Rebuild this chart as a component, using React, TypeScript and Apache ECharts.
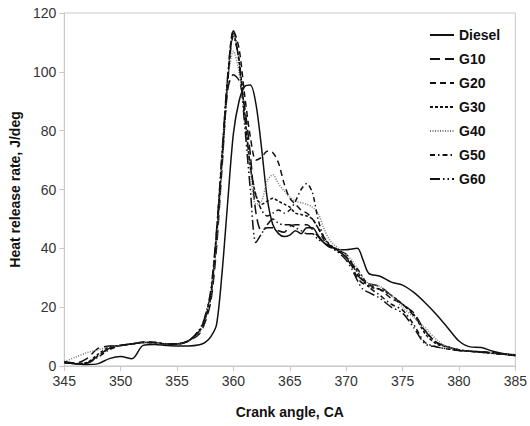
import React, { useEffect, useRef } from "react";
import * as echarts from "echarts";

const angles = [
  345, 346, 347, 348, 349, 350, 351, 352, 353, 354, 355, 356, 357,
  357.5, 358, 358.5, 359, 359.5, 360, 360.5, 361, 361.5, 362, 362.5, 363, 363.5, 364, 364.5, 365,
  365.5, 366, 366.5, 367, 367.5, 368, 368.5, 369, 369.5, 370, 370.5, 371, 371.5, 372,
  373, 374, 375, 376, 377, 378, 379, 380, 381, 382, 383, 384, 385,
];

const diesel = [
  1.2, 0.8, 0.5, 0.8, 2.5, 3.2, 2.5, 7, 7.3, 7, 6.8, 6.8, 7.2,
  8, 10, 14, 32, 56, 79, 90, 95, 95.5, 89, 74, 57, 48, 45, 44, 44.5, 46, 45, 47, 47, 44.5, 42, 40.5, 40, 39.5, 39.5, 39.8, 40, 36, 31.5,
  30.5, 28.5, 27.5, 25, 21.5, 17.5, 13, 8.5, 6.5, 6.3, 5, 4.2, 3.8,
];
const g10 = [
  1.5, 1, 2.5, 6, 6.8, 7, 7.5, 8, 8, 7.5, 7.5, 8.5, 11,
  15, 22, 40, 68, 94, 99, 97, 88, 72, 52, 46, 47, 47, 46, 45.5, 47.5, 48, 48, 48, 46.5, 44, 42, 41, 40, 39, 38, 35, 31, 29, 28,
  27, 24, 21, 18, 12, 8, 6.5, 5.5, 5, 4.8, 4.5, 4, 3.5,
];
const g20 = [
  1.3, 0.8, 1, 3.5, 6, 7, 7.5, 8.2, 8, 7.5, 7.5, 8.5, 12,
  17, 25, 45, 72, 98, 114, 108, 92, 78, 70, 71, 73, 72.5, 69, 62, 57, 55, 53, 52, 50, 47, 43, 41, 40, 38.5, 37, 34, 30, 28, 27.5,
  26, 23, 21, 17, 12, 8, 6.5, 5.5, 5, 4.8, 4.5, 4, 3.7,
];
const g30 = [
  1.2, 0.8, 1.2, 4, 6.5, 7, 7.5, 8, 8, 7.5, 7.5, 8.5, 12,
  16, 24, 44, 70, 97, 113, 104, 86, 68, 58, 55, 56, 57, 56, 55, 54, 52, 51.5, 51, 50, 47, 44, 41.5, 40, 38.5, 37, 35, 32, 29, 27,
  26, 24, 21, 17.5, 11, 7.5, 6.5, 5.5, 5, 4.7, 4.3, 4, 3.6,
];
const g40 = [
  1.5, 3, 4.5, 5.5, 6.5, 7, 7.5, 8, 8, 7.5, 7.5, 8.5, 11.5,
  16, 24, 42, 70, 97, 107, 100, 84, 66, 55, 56, 63, 65, 62, 59.5, 57.5, 56, 55.5, 55, 54, 52, 47, 43, 41, 39.5, 38, 36, 33, 30, 28,
  27, 24, 20, 16.5, 13, 9, 6.5, 5.5, 5, 4.6, 4.3, 4, 3.6,
];
const g50 = [
  1.3, 0.8, 1, 3, 5.5, 7, 7.5, 8, 8, 7.5, 7.5, 8.5, 12,
  16, 24, 44, 71, 97, 112, 104, 85, 68, 58, 53, 51, 52, 53, 52, 53, 56, 60, 62, 59, 50, 44, 41, 39.5, 38.5, 37, 34, 33, 30, 27,
  24, 21, 19, 14, 8, 6.5, 5.8, 5.3, 5, 4.7, 4.3, 4, 3.6,
];
const g60 = [
  1.3, 0.8, 1, 3.5, 6, 7, 7.5, 8, 8, 7.5, 7.5, 8.5, 12.5,
  17, 26, 46, 73, 99, 114, 103, 82, 60, 42, 45, 48, 50, 48.5, 48, 48, 47, 46, 45, 45, 43, 42, 40.5, 39.5, 38, 36, 33, 29, 26, 25,
  23, 20, 18, 13, 7.5, 6.5, 5.8, 5.3, 5, 4.7, 4.3, 4, 3.6,
];

const seriesNames = ["Diesel", "G10", "G20", "G30", "G40", "G50", "G60"];
const seriesValues = [diesel, g10, g20, g30, g40, g50, g60];
const yTicks = { min: 0, max: 120, interval: 20 };
const xTicks = { min: 345, max: 385, interval: 5 };

const FONT = "'Liberation Sans', Arial, sans-serif";

const styles: any[] = [
  { type: "solid", color: "#111" },
  { type: [10, 5], color: "#111" },
  { type: [6, 4], color: "#111" },
  { type: [3, 2], color: "#111" },
  { type: [1, 1.5], color: "#777" },
  { type: [5, 3, 1.5, 3], color: "#111" },
  { type: [10, 3, 1.5, 3, 1.5, 3], color: "#111" },
];

export default function App() {
  const ref = useRef<HTMLDivElement>(null);
  useEffect(() => {
    if (!ref.current) return;
    const chart = echarts.init(ref.current, undefined, { renderer: "svg" });
    chart.setOption({
      animation: false,
      backgroundColor: "#fff",
      textStyle: { fontFamily: FONT },
      grid: {
        left: 55,
        right: 12,
        top: 13,
        bottom: 60,
        show: true,
        borderColor: "#c8c8c8",
        borderWidth: 1,
      },
      legend: {
        orient: "vertical",
        left: 424,
        top: 23,
        itemWidth: 24,
        itemHeight: 14,
        itemGap: 10,
        itemStyle: { opacity: 0 },
        data: seriesNames,
        textStyle: { fontFamily: FONT, fontWeight: "bold", fontSize: 14, color: "#111" },
      },
      xAxis: {
        type: "value",
        min: xTicks.min,
        max: xTicks.max,
        interval: xTicks.interval,
        name: "Crank angle, CA",
        nameLocation: "middle",
        nameGap: 39,
        nameTextStyle: { fontFamily: FONT, fontWeight: "bold", fontSize: 14, color: "#111" },
        axisLine: { lineStyle: { color: "#c8c8c8" } },
        axisTick: { lineStyle: { color: "#c8c8c8" }, length: 5 },
        axisLabel: { fontFamily: FONT, fontSize: 14, color: "#333", margin: 8 },
        splitLine: { show: false },
      },
      yAxis: {
        type: "value",
        min: yTicks.min,
        max: yTicks.max,
        interval: yTicks.interval,
        name: "Heat release rate, J/deg",
        nameLocation: "middle",
        nameGap: 33,
        nameTextStyle: { fontFamily: FONT, fontWeight: "bold", fontSize: 14, color: "#111" },
        axisLine: { show: true, lineStyle: { color: "#c8c8c8" } },
        axisTick: { show: true, lineStyle: { color: "#c8c8c8" }, length: 5 },
        axisLabel: { fontFamily: FONT, fontSize: 14, color: "#333", margin: 8 },
        splitLine: { show: false },
      },
      series: seriesNames.map((name, k) => ({
        name,
        type: "line",
        symbol: "none",
        smooth: 0.3,
        data: angles.map((a, i) => [a, seriesValues[k][i]]),
        lineStyle: { width: 1.5, type: styles[k].type, color: styles[k].color },
        itemStyle: { color: styles[k].color },
      })),
    });
    return () => chart.dispose();
  }, []);
  return (
    <div
      ref={ref}
      style={{ position: "fixed", left: 0, top: 0, width: 530, height: 426, background: "#fff" }}
    />
  );
}
